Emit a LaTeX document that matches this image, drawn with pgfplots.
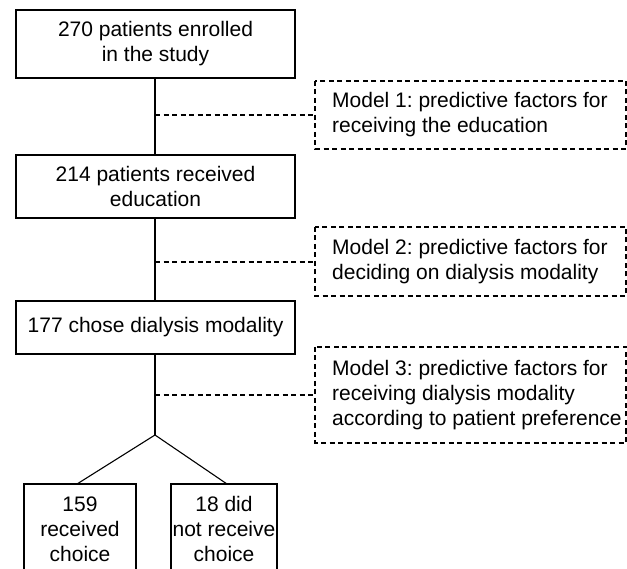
\documentclass[border=0pt]{standalone}
\usepackage{pgfplots}
\pgfplotsset{compat=1.18}
\usepackage{fontspec}
\setmainfont{Liberation Sans}
\frenchspacing
\begin{document}
\begin{tikzpicture}
\begin{axis}[
  scale only axis, width=627pt, height=569pt,
  xmin=0, xmax=627, ymin=0, ymax=569, y dir=reverse,
  axis lines=none, clip=false,
]
\tikzset{bx/.style={draw=black, line width=1.1pt},
         ds/.style={draw=black, line width=1.1pt, dash pattern=on 5pt off 3.5pt},
         tx/.style={font=\fontsize{21}{25}\selectfont, align=center, inner sep=0pt},
         tl/.style={font=\fontsize{21}{25}\selectfont, align=left, inner sep=0pt, anchor=west}}
% main boxes
\draw[bx] (axis cs:16,10) rectangle (axis cs:295,78);
\draw[bx] (axis cs:16,155) rectangle (axis cs:295,218);
\draw[bx] (axis cs:16,301) rectangle (axis cs:295,354);
% bottom boxes (cut off at bottom)
\draw[bx] (axis cs:24,569.5) -- (axis cs:24,484) -- (axis cs:136,484) -- (axis cs:136,569.5);
\draw[bx] (axis cs:171,569.5) -- (axis cs:171,484) -- (axis cs:277,484) -- (axis cs:277,569.5);
% connectors
\addplot[black, line width=1.1pt] coordinates {(155,78) (155,155)};
\addplot[black, line width=1.1pt] coordinates {(155,218) (155,301)};
\addplot[black, line width=1.1pt] coordinates {(155,354) (155,435)};
\addplot[black, line width=1.1pt] coordinates {(77,484) (155,435) (227,484)};
% dashed connectors
\addplot[black, line width=1.1pt, dash pattern=on 5pt off 3.5pt] coordinates {(155,115) (315,115)};
\addplot[black, line width=1.1pt, dash pattern=on 5pt off 3.5pt] coordinates {(155,262) (315,262)};
\addplot[black, line width=1.1pt, dash pattern=on 5pt off 3.5pt] coordinates {(155,395) (315,395)};
% dashed model boxes
\draw[ds] (axis cs:315,81) rectangle (axis cs:626,149);
\draw[ds] (axis cs:315,227) rectangle (axis cs:626,296);
\draw[ds] (axis cs:315,347) rectangle (axis cs:626,443);
% texts
\node[tx] at (axis cs:155.5,44) {270 patients enrolled\\in the study};
\node[tx] at (axis cs:155.5,186.5) {214 patients received\\education};
\node[tx] at (axis cs:155.5,327.5) {177 chose dialysis modality};
\node[tx] at (axis cs:80,529) {159\\received\\choice};
\node[tx] at (axis cs:224,529) {18 did\\not receive\\choice};
\node[tl] at (axis cs:332,115) {Model 1: predictive factors for\\receiving the education};
\node[tl] at (axis cs:332,261.5) {Model 2: predictive factors for\\deciding on dialysis modality};
\node[tl] at (axis cs:332,395) {Model 3: predictive factors for\\receiving dialysis modality\\according to patient preference};
\end{axis}
\pgfresetboundingbox
\path (current axis.south west) rectangle (current axis.north east);
\end{tikzpicture}
\end{document}
